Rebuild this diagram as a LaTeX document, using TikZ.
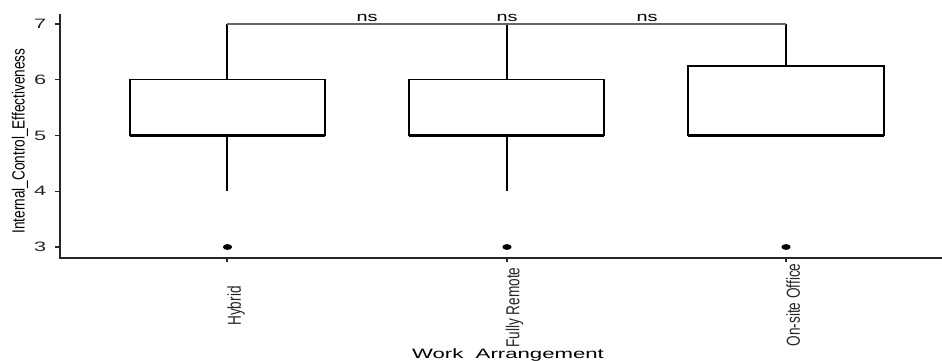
\documentclass[tikz,border=0pt]{standalone}
\usepackage{fontspec}
\setmainfont{Liberation Sans}
\usepackage{graphicx}
\begin{document}
\begin{tikzpicture}[x=1pt,y=1pt,
  axisline/.style={line width=1.3pt,color=black!85},
  tickline/.style={line width=1.1pt,color=black!85},
  boxline/.style={line width=1.4pt,black},
  medline/.style={line width=2.2pt,black},
  whisk/.style={line width=1.2pt,black},
  brk/.style={line width=1.1pt,color=black!60},
  outl/.style={fill=black},
  ticklab/.style={font=\fontsize{13.6}{15}\selectfont,inner sep=0pt,text=black!85},
  axtitle/.style={font=\fontsize{13.6}{15}\selectfont,inner sep=0pt,text=black},
  nslab/.style={font=\fontsize{13.4}{15}\selectfont,inner sep=0pt,anchor=base}]
\useasboundingbox (0,0) rectangle (942,360);
% whiskers
\draw[whisk] (227,280.25) -- (227,336);
\draw[whisk] (227,224.5) -- (227,168.75);
\draw[whisk] (507,280.25) -- (507,336);
\draw[whisk] (507,224.5) -- (507,168.75);
\draw[whisk] (786,294.2) -- (786,336);
% boxes
\draw[boxline,fill=white] (130,224.5) rectangle (325,280.25);
\draw[boxline,fill=white] (409,224.5) rectangle (604,280.25);
\draw[boxline,fill=white] (688,224.5) rectangle (884,294.2);
% medians
\draw[medline] (130,224.5) -- (325,224.5);
\draw[medline] (409,224.5) -- (604,224.5);
\draw[medline] (688,224.5) -- (884,224.5);
% outliers
\fill[outl] (227.5,113) ellipse [x radius=4.6, y radius=2.9];
\fill[outl] (507,113) ellipse [x radius=4.6, y radius=2.9];
\fill[outl] (786,113) ellipse [x radius=4.6, y radius=2.9];
% bracket
\draw[brk] (227,336) -- (786,336);
\node[nslab] (ns1) at (367,338.5) {\scalebox{1.48}[1]{ns}};
\node[nslab] (ns2) at (507,338.5) {\scalebox{1.48}[1]{ns}};
\node[nslab] (ns3) at (647,338.5) {\scalebox{1.48}[1]{ns}};
% axes
\draw[axisline] (60,346) -- (60,102) -- (942,102);
% y ticks
\foreach \v/\yy in {7/336,6/280.25,5/224.5,4/168.75,3/113}{
  \draw[tickline] (55,\yy) -- (60,\yy);
  \node[ticklab,anchor=east] (yt\v) at (46.5,\yy) {\scalebox{1.6}[1]{\v}};
}
% x ticks
\foreach \xx in {227,507,786}{
  \draw[tickline] (\xx,102) -- (\xx,98);
}
\node[ticklab,rotate=90,anchor=north] (xh) at (227,54) {\scalebox{1}[1.38]{Hybrid}};
\node[ticklab,rotate=90,anchor=north] (xf) at (505.5,52.5) {\scalebox{1}[1.38]{Fully Remote}};
\node[ticklab,rotate=90,anchor=north] (xo) at (786,55) {\scalebox{1}[1.38]{On-site Office}};
% axis titles
\node[axtitle,rotate=90] (ylab) at (20,219) {\scalebox{1}[1.3]{Internal\_Control\_Effectiveness}};
\node[axtitle,anchor=base] (xlab) at (508,2) {\scalebox{1.63}[1]{Work~~Arrangement}};
\end{tikzpicture}
\end{document}
